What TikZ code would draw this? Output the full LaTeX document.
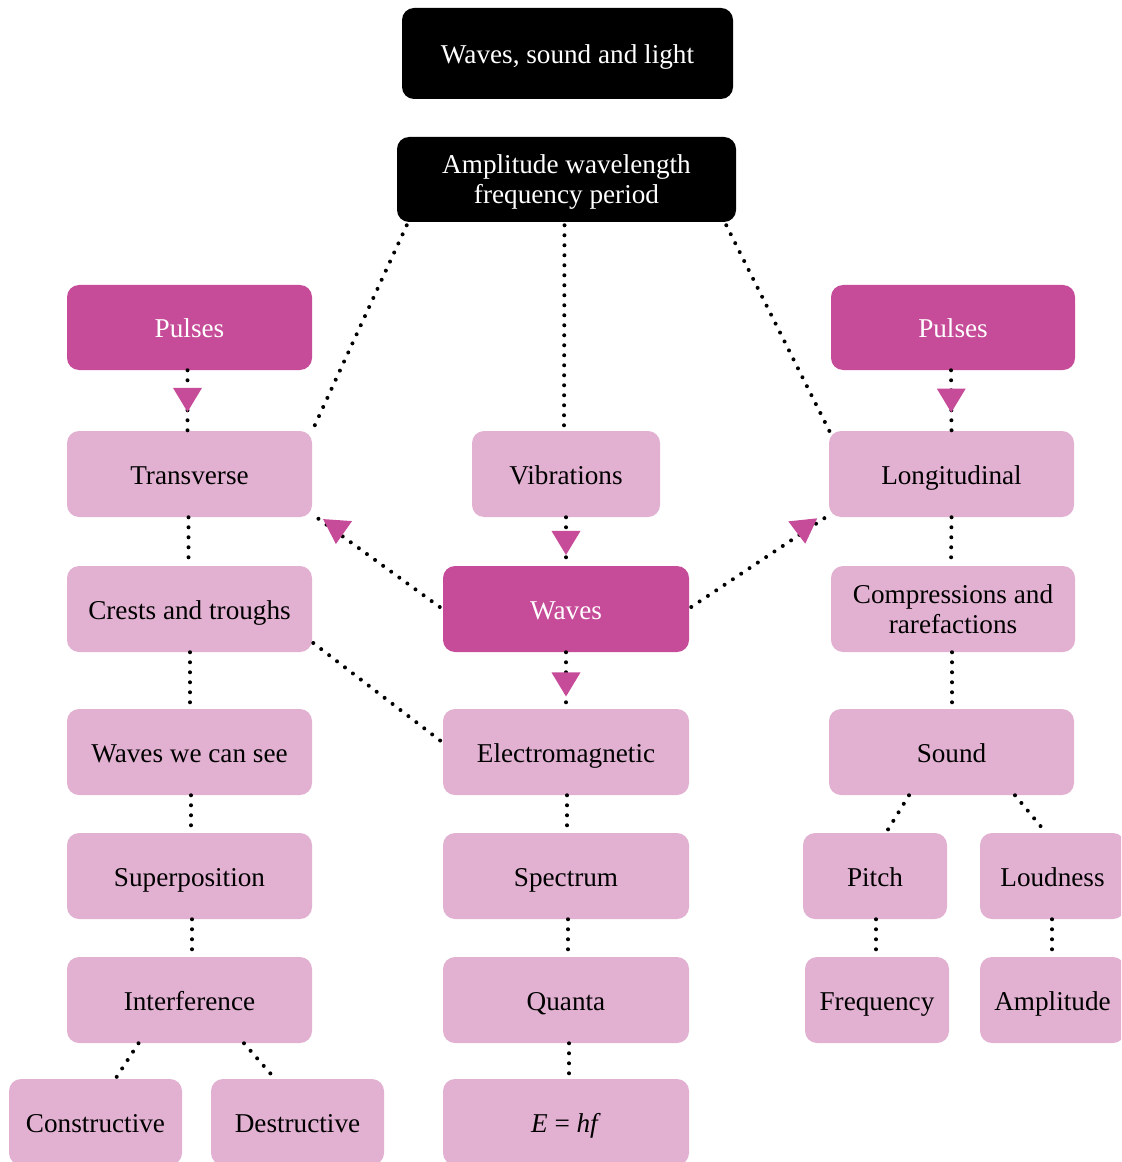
\documentclass[tikz,border=0pt]{standalone}
\usepackage{fontspec}
\setmainfont{Liberation Serif}
\usetikzlibrary{calc,decorations.markings}
\definecolor{pinkdark}{RGB}{198,75,152}
\definecolor{pinklight}{RGB}{226,177,210}
\begin{document}
\begin{tikzpicture}[x=0.75pt,y=-0.75pt,
  font=\fontsize{20.4}{22.5}\selectfont,
  box/.style={rounded corners=9pt, align=center, inner sep=0pt, text=black, fill=pinklight, text height=15pt, text depth=0pt},
  two/.style={text height=, text depth=0pt},
  dk/.style={box, fill=pinkdark, text=white},
  bk/.style={box, fill=black, text=white},
  sz/.style 2 args={minimum width=#1*0.75pt, minimum height=#2*0.75pt},
  dotline/.style={line width=3pt, line cap=round, dash pattern=on 0pt off 7.5pt},
  tri/.style 2 args={postaction={decorate, decoration={markings, mark=at position #1 with {\pgftransformresetnontranslations \fill[pinkdark, rotate=#2] (-14.5,-12) -- (14.5,-12) -- (0,12) -- cycle;}}}}
]
\clip (0,0) rectangle (1121,1162);
% nodes
\node[bk, sz={331}{91}] (top1) at (567.5,53.5) {Waves, sound and light};
\node[bk, two, sz={339}{85}] (top2) at (566.5,179.5) {Amplitude wavelength\\frequency period};
\node[dk, sz={245}{85}] (pl) at (189.5,327.5) {Pulses};
\node[dk, sz={244}{85}] (pr) at (953,327.5) {Pulses};
\node[box, sz={245}{86}] (tr) at (189.5,474) {Transverse};
\node[box, sz={188}{86}] (vi) at (566,474) {Vibrations};
\node[box, sz={245}{86}] (lo) at (951.5,474) {Longitudinal};
\node[box, sz={245}{86}] (cr) at (189.5,609) {Crests and troughs};
\node[dk, sz={246}{86}] (wv) at (566,609) {Waves};
\node[box, two, sz={244}{86}] (co) at (953,609) {Compressions and\\rarefactions};
\node[box, sz={245}{86}] (ws) at (189.5,752) {Waves we can see};
\node[box, sz={246}{86}] (em) at (566,752) {Electromagnetic};
\node[box, sz={245}{86}] (so) at (951.5,752) {Sound};
\node[box, sz={245}{86}] (su) at (189.5,876) {Superposition};
\node[box, sz={246}{86}] (sp) at (566,876) {Spectrum};
\node[box, sz={144}{86}] (pi) at (875,876) {Pitch};
\node[box, sz={145}{86}] (ld) at (1052.5,876) {Loudness};
\node[box, sz={245}{86}] (in) at (189.5,1000) {Interference};
\node[box, sz={246}{86}] (qu) at (566,1000) {Quanta};
\node[box, sz={144}{86}] (fr) at (877,1000) {Frequency};
\node[box, sz={145}{86}] (am) at (1052.5,1000) {Amplitude};
\node[box, sz={173}{86}] (cs) at (95.5,1122) {Constructive};
\node[box, sz={173}{86}] (de) at (297.5,1122) {Destructive};
\node[box, sz={246}{86}] (eh) at (566,1122) {\textit{E} = \textit{hf}};
% connectors
\draw[dotline] ($(top2.south west)+(10,3)$) -- (tr.north east);
\draw[dotline] ($(top2.south)+(-2,3)$) -- ($(vi.north)+(-2,0)$);
\draw[dotline] ($(top2.south east)+(-10,3)$) -- ($(lo.north west)+(2,3)$);
\draw[dotline, tri={0.49}{0}] ($(pl.south)+(-2,0)$) -- ($(tr.north)+(-2,0)$);
\draw[dotline, tri={0.5}{0}] ($(pr.south)+(-2,0)$) -- ($(lo.north)+(0,0)$);
\draw[dotline, tri={0.53}{0}] (vi.south) -- (wv.north);
\draw[dotline, tri={0.57}{0}] (wv.south) -- (em.north);
\draw[dotline, tri={0.81}{-4}] ($(wv.west)+(-3,-2)$) -- ($(tr.south east)+(0,-3)$);
\draw[dotline, tri={0.82}{6}] ($(wv.east)+(2,-2)$) -- ($(lo.south west)+(0,-2)$);
\draw[dotline] ($(tr.south)+(-1,0)$) -- ($(cr.north)+(-1,0)$);
\draw[dotline] ($(cr.south)+(0.5,0)$) -- ($(ws.north)+(0.5,0)$);
\draw[dotline] ($(ws.south)+(1.5,0)$) -- ($(su.north)+(1.5,0)$);
\draw[dotline] ($(su.south)+(2.5,0)$) -- ($(in.north)+(2.5,0)$);
\draw[dotline] ($(cr.east)+(1,34)$) -- ($(em.west)+(-2,-11)$);
\draw[dotline] ($(in.south)+(-51,0)$) -- ($(cs.north)+(20,0)$);
\draw[dotline] ($(in.south)+(54.5,0)$) -- ($(de.north)+(-22.5,0)$);
\draw[dotline] ($(em.south)+(1,0)$) -- ($(sp.north)+(1,0)$);
\draw[dotline] ($(sp.south)+(2,0)$) -- ($(qu.north)+(2,0)$);
\draw[dotline] ($(qu.south)+(3,0)$) -- ($(eh.north)+(3,0)$);
\draw[dotline] ($(lo.south)+(0,0)$) -- ($(co.north)+(-2,0)$);
\draw[dotline] ($(co.south)+(-1,0)$) -- ($(so.north)+(0.5,0)$);
\draw[dotline] ($(so.south)+(-42.5,0)$) -- ($(pi.north)+(11,0)$);
\draw[dotline] ($(so.south)+(63.5,0)$) -- ($(ld.north)+(-6.5,0)$);
\draw[dotline] ($(pi.south)+(1,0)$) -- ($(fr.north)+(-1,0)$);
\draw[dotline] ($(ld.south)+(-0.5,0)$) -- ($(am.north)+(-0.5,0)$);
\end{tikzpicture}
\end{document}
